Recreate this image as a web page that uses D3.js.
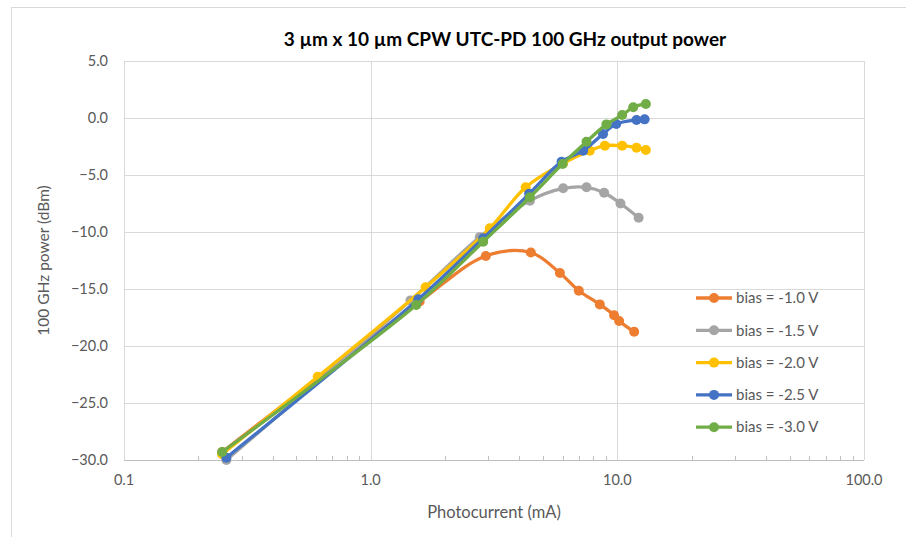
<!DOCTYPE html>
<html>
<head>
<meta charset="utf-8">
<script src="https://cdn.jsdelivr.net/npm/d3@7"></script>
<style>
  html, body { margin: 0; padding: 0; background: #fff; }
  svg { display: block; font-family: "Lato", "Open Sans", sans-serif; }
</style>
</head>
<body>
<div id="chart"></div>
<script>
// values: photocurrent (mA) and 100 GHz power (dBm)
var biasLabels = ["bias = -1.0 V", "bias = -1.5 V", "bias = -2.0 V", "bias = -2.5 V", "bias = -3.0 V"];
var biasColors = ["#ED7D31", "#A5A5A5", "#FFC000", "#4472C4", "#70AD47"];

var current10 = [0.25, 1.58, 2.93, 4.46, 5.85, 6.98, 8.49, 9.70, 10.17, 11.7];
var power10   = [-29.3, -16.1, -12.1, -11.8, -13.6, -15.15, -16.35, -17.3, -17.8, -18.75];

var current15 = [0.26, 1.45, 2.77, 4.42, 6.03, 7.50, 8.84, 10.3, 12.2];
var power15   = [-30.0, -16.0, -10.45, -7.25, -6.17, -6.08, -6.55, -7.5, -8.75];

var current20 = [0.25, 0.61, 1.67, 3.04, 4.25, 6.03, 7.73, 8.90, 10.46, 11.96, 13.05];
var power20   = [-29.5, -22.7, -14.85, -9.68, -6.08, -3.97, -2.87, -2.43, -2.43, -2.6, -2.8];

var current25 = [0.26, 1.56, 2.86, 4.39, 5.94, 7.27, 8.75, 9.9, 11.96, 12.9];
var power25   = [-29.8, -15.9, -10.55, -6.65, -3.83, -2.87, -1.4, -0.53, -0.18, -0.12];

var current30 = [0.25, 1.53, 2.86, 4.42, 6.0, 7.5, 9.03, 10.46, 11.6, 13.05];
var power30   = [-29.3, -16.4, -10.85, -6.95, -4.03, -2.08, -0.56, 0.26, 0.94, 1.23];

var xTicks = [0.1, 1, 10, 100];
var yTicks = [-30, -25, -20, -15, -10, -5, 0, 5];

var series = [
  {name: biasLabels[0], color: biasColors[0], x: current10, y: power10},
  {name: biasLabels[1], color: biasColors[1], x: current15, y: power15},
  {name: biasLabels[2], color: biasColors[2], x: current20, y: power20},
  {name: biasLabels[3], color: biasColors[3], x: current25, y: power25},
  {name: biasLabels[4], color: biasColors[4], x: current30, y: power30}
];

var W = 906, H = 537;
var margin = {top: 61, right: 42, bottom: 77, left: 124},
    width = W - margin.left - margin.right,
    height = H - margin.top - margin.bottom;

var svg = d3.select("#chart").append("svg")
    .attr("width", W)
    .attr("height", H);

// outer chart border
svg.append("rect")
    .attr("x", 11.5).attr("y", 7.5)
    .attr("width", W).attr("height", H)
    .attr("fill", "none")
    .attr("stroke", "#d9d9d9");

var g = svg.append("g")
    .attr("transform", "translate(" + margin.left + "," + margin.top + ")");

var x = d3.scaleLog().domain([0.1, 100]).range([0, width]);
var y = d3.scaleLinear().domain([-30, 5]).range([height, 0]);

// gridlines
g.selectAll(".hgrid")
    .data(yTicks)
  .enter().append("line")
    .attr("x1", 0).attr("x2", width)
    .attr("y1", function(d) { return Math.round(y(d)) + 0.5; })
    .attr("y2", function(d) { return Math.round(y(d)) + 0.5; })
    .attr("stroke", "#d9d9d9").attr("stroke-width", 1);

g.selectAll(".vgrid")
    .data(xTicks)
  .enter().append("line")
    .attr("x1", function(d) { return Math.round(x(d)) + 0.5; })
    .attr("x2", function(d) { return Math.round(x(d)) + 0.5; })
    .attr("y1", 0).attr("y2", height)
    .attr("stroke", "#d9d9d9").attr("stroke-width", 1);

// bottom axis line with minor ticks
var minor = [];
[0.1, 1, 10].forEach(function(dec) {
  for (var k = 2; k <= 9; k++) minor.push(dec * k);
});
g.append("line")
    .attr("x1", 0).attr("x2", width)
    .attr("y1", height + 0.5).attr("y2", height + 0.5)
    .attr("stroke", "#bfbfbf");
g.selectAll(".minor")
    .data(minor)
  .enter().append("line")
    .attr("x1", function(d) { return Math.round(x(d)) + 0.5; })
    .attr("x2", function(d) { return Math.round(x(d)) + 0.5; })
    .attr("y1", height - 4).attr("y2", height)
    .attr("stroke", "#bfbfbf");

// tick labels
var fmt = d3.format(".1f");
g.selectAll(".ylab")
    .data(yTicks)
  .enter().append("text")
    .attr("x", -16)
    .attr("y", function(d) { return y(d); })
    .attr("dy", "0.35em")
    .attr("text-anchor", "end")
    .attr("fill", "#595959")
    .style("font-size", "14.5px")
    .text(fmt);

g.selectAll(".xlab")
    .data(xTicks)
  .enter().append("text")
    .attr("x", function(d) { return x(d); })
    .attr("y", height + 25)
    .attr("text-anchor", "middle")
    .attr("fill", "#595959")
    .style("font-size", "14.5px")
    .text(fmt);

// titles
svg.append("text")
    .attr("x", 505).attr("y", 46)
    .attr("text-anchor", "middle")
    .attr("fill", "#000")
    .style("font-size", "19px").style("font-weight", "bold")
    .text("3 µm x 10 µm CPW UTC-PD 100 GHz output power");

svg.append("text")
    .attr("x", 494).attr("y", 518)
    .attr("text-anchor", "middle")
    .attr("fill", "#595959")
    .style("font-size", "16.5px")
    .text("Photocurrent (mA)");

svg.append("text")
    .attr("transform", "translate(49," + (margin.top + height / 2) + ") rotate(-90)")
    .attr("text-anchor", "middle")
    .attr("fill", "#595959")
    .style("font-size", "15.5px")
    .text("100 GHz power (dBm)");

// series
var line = d3.line()
    .x(function(d) { return x(d[0]); })
    .y(function(d) { return y(d[1]); })
    .curve(d3.curveCatmullRom.alpha(0.5));

var plot = g.append("g");
series.forEach(function(s) {
  var pts = d3.zip(s.x, s.y);
  plot.append("path")
      .datum(pts)
      .attr("fill", "none")
      .attr("stroke", s.color)
      .attr("stroke-width", 3.3)
      .attr("stroke-linejoin", "round")
      .attr("stroke-linecap", "round")
      .attr("d", line);
  plot.selectAll(null)
      .data(pts)
    .enter().append("circle")
      .attr("cx", function(d) { return x(d[0]); })
      .attr("cy", function(d) { return y(d[1]); })
      .attr("r", 5)
      .attr("fill", s.color);
});

// legend
var legend = svg.append("g")
    .attr("transform", "translate(696,298)");
var item = legend.selectAll(".item")
    .data(series)
  .enter().append("g")
    .attr("transform", function(d, i) { return "translate(0," + (i * 32.3) + ")"; });
item.append("line")
    .attr("x1", 0).attr("x2", 36)
    .attr("stroke", function(d) { return d.color; })
    .attr("stroke-width", 3.3);
item.append("circle")
    .attr("cx", 18).attr("r", 5)
    .attr("fill", function(d) { return d.color; });
item.append("text")
    .attr("x", 40)
    .attr("dy", "0.35em")
    .attr("fill", "#595959")
    .style("font-size", "15px")
    .text(function(d) { return d.name; });
</script>
</body>
</html>
